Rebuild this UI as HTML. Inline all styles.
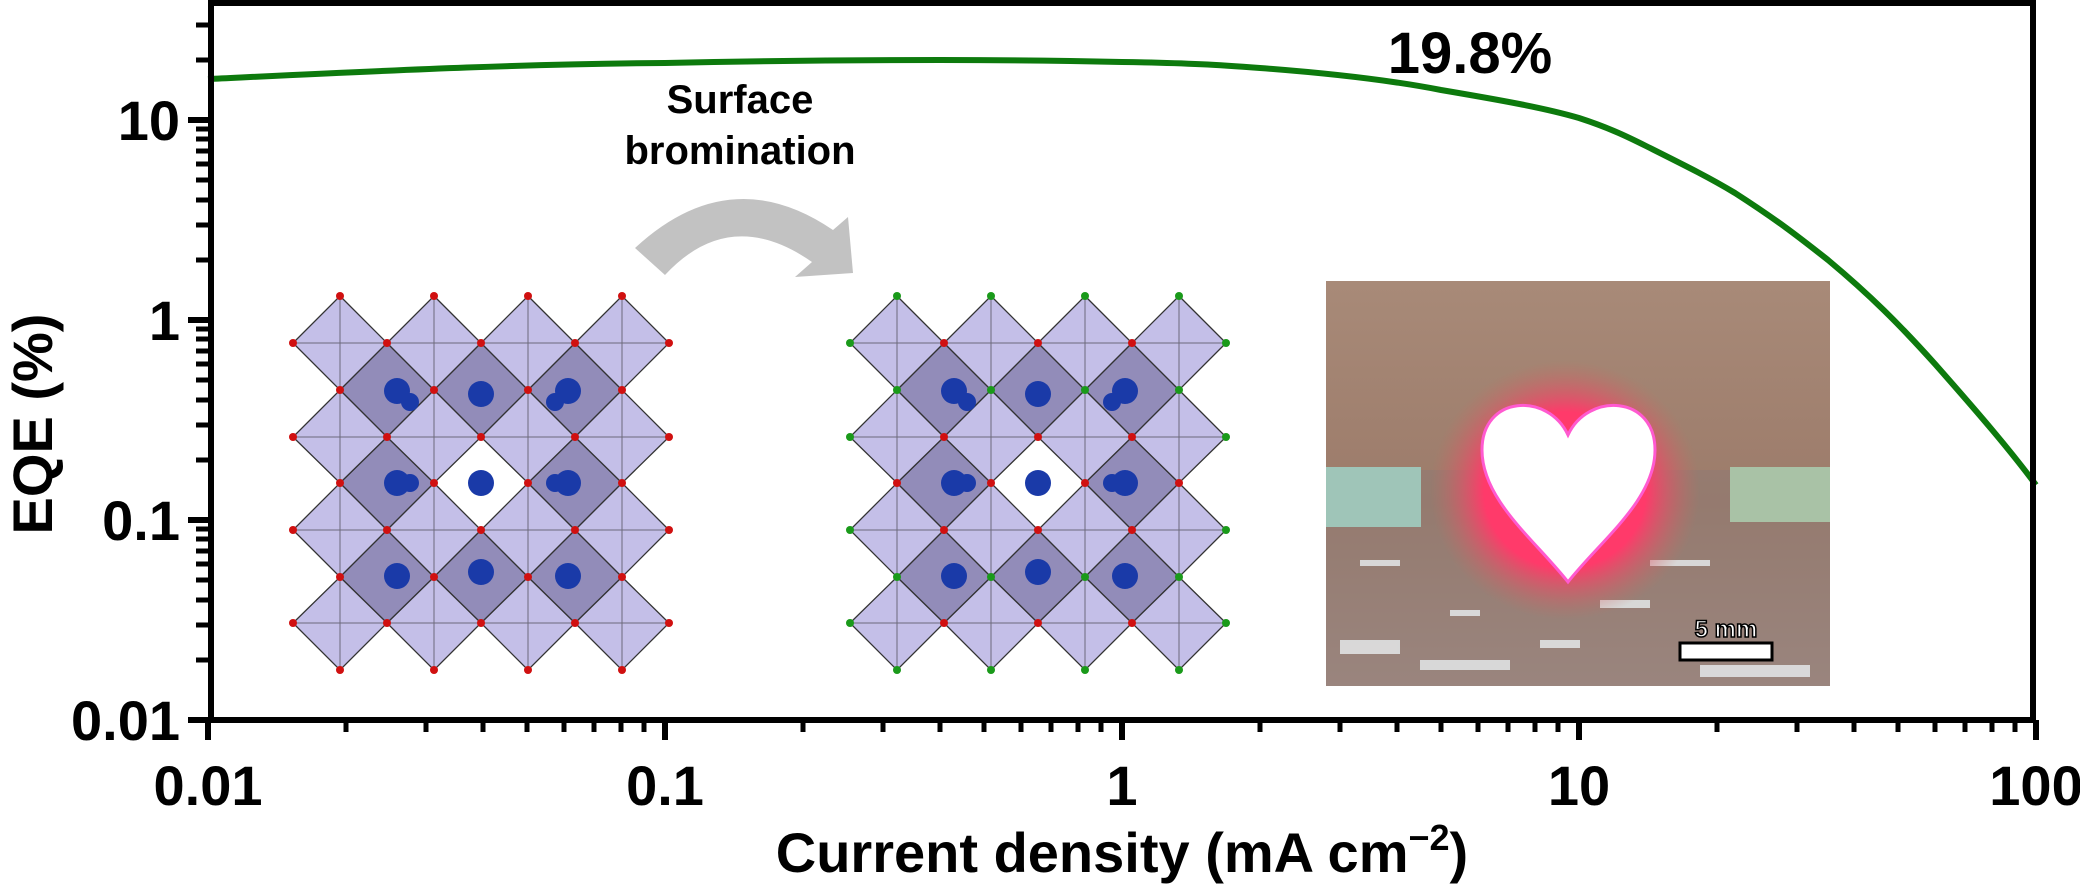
<!DOCTYPE html>
<html><head><meta charset="utf-8"><style>
html,body{margin:0;padding:0;background:#fff;}
svg{display:block;}
text{font-family:"Liberation Sans",Arial,sans-serif;font-weight:bold;fill:#000;}
</style></head><body>
<svg width="2080" height="886" viewBox="0 0 2080 886" xmlns="http://www.w3.org/2000/svg">
<defs>
<g id="crys">
  <g fill="#4a3f8a" fill-opacity="0.6" stroke="#222" stroke-width="1.2">
    <polygon points="387,343 434,390 387,437 340,390"/>
    <polygon points="481,343 528,390 481,437 434,390"/>
    <polygon points="575,343 622,390 575,437 528,390"/>
    <polygon points="387,437 434,483 387,530 340,483"/>
    <polygon points="575,437 622,483 575,530 528,483"/>
    <polygon points="387,530 434,577 387,623 340,577"/>
    <polygon points="481,530 528,577 481,623 434,577"/>
    <polygon points="575,530 622,577 575,623 528,577"/>
  </g>
  <polygon points="481,437 516,483 481,520 446,483" fill="#fff"/>
  <g fill="#9c94d8" fill-opacity="0.6" stroke="#333" stroke-width="1.3">
    <polygon points="340,296 387,343 340,390 293,343"/>
    <polygon points="434,296 481,343 434,390 387,343"/>
    <polygon points="528,296 575,343 528,390 481,343"/>
    <polygon points="622,296 669,343 622,390 575,343"/>
    <polygon points="340,390 387,437 340,483 293,437"/>
    <polygon points="434,390 481,437 434,483 387,437"/>
    <polygon points="528,390 575,437 528,483 481,437"/>
    <polygon points="622,390 669,437 622,483 575,437"/>
    <polygon points="340,483 387,530 340,577 293,530"/>
    <polygon points="434,483 481,530 434,577 387,530"/>
    <polygon points="528,483 575,530 528,577 481,530"/>
    <polygon points="622,483 669,530 622,577 575,530"/>
    <polygon points="340,577 387,623 340,670 293,623"/>
    <polygon points="434,577 481,623 434,670 387,623"/>
    <polygon points="528,577 575,623 528,670 481,623"/>
    <polygon points="622,577 669,623 622,670 575,623"/>
  </g>
  <g stroke="#333" stroke-width="1" opacity="0.6">
    <path d="M293,343L669,343M293,437L669,437M293,530L669,530M293,623L669,623M340,296L340,670M434,296L434,670M528,296L528,670M622,296L622,670"/>
  </g>
  <g fill="#1a3aa8">
    <circle cx="481" cy="483" r="13"/>
    <circle cx="397" cy="391" r="13"/><circle cx="481" cy="394" r="13"/><circle cx="568" cy="391" r="13"/>
    <circle cx="397" cy="483" r="13"/><circle cx="568" cy="483" r="13"/>
    <circle cx="397" cy="576" r="13"/><circle cx="481" cy="572" r="13"/><circle cx="568" cy="576" r="13"/>
    <circle cx="410" cy="402" r="9"/><circle cx="555" cy="402" r="9"/><circle cx="410" cy="483" r="9"/><circle cx="555" cy="483" r="9"/>
  </g>
</g>
</defs>

<g>
  <use href="#crys"/>
  <g fill="#d01010">
    <circle cx="340" cy="296" r="4"/><circle cx="434" cy="296" r="4"/><circle cx="528" cy="296" r="4"/><circle cx="622" cy="296" r="4"/>
    <circle cx="340" cy="670" r="4"/><circle cx="434" cy="670" r="4"/><circle cx="528" cy="670" r="4"/><circle cx="622" cy="670" r="4"/>
    <circle cx="293" cy="343" r="4"/><circle cx="293" cy="437" r="4"/><circle cx="293" cy="530" r="4"/><circle cx="293" cy="623" r="4"/>
    <circle cx="669" cy="343" r="4"/><circle cx="669" cy="437" r="4"/><circle cx="669" cy="530" r="4"/><circle cx="669" cy="623" r="4"/>
    <circle cx="387" cy="343" r="4"/><circle cx="481" cy="343" r="4"/><circle cx="575" cy="343" r="4"/>
    <circle cx="387" cy="437" r="4"/><circle cx="481" cy="437" r="4"/><circle cx="575" cy="437" r="4"/>
    <circle cx="387" cy="530" r="4"/><circle cx="481" cy="530" r="4"/><circle cx="575" cy="530" r="4"/>
    <circle cx="387" cy="623" r="4"/><circle cx="481" cy="623" r="4"/><circle cx="575" cy="623" r="4"/>
    <circle cx="340" cy="390" r="4"/><circle cx="434" cy="390" r="4"/><circle cx="528" cy="390" r="4"/><circle cx="622" cy="390" r="4"/>
    <circle cx="340" cy="483" r="4"/><circle cx="434" cy="483" r="4"/><circle cx="528" cy="483" r="4"/><circle cx="622" cy="483" r="4"/>
    <circle cx="340" cy="577" r="4"/><circle cx="434" cy="577" r="4"/><circle cx="528" cy="577" r="4"/><circle cx="622" cy="577" r="4"/>
  </g>
</g>
<g transform="translate(557,0)">
  <use href="#crys"/>
  <g fill="#1a9a1a">
    <circle cx="340" cy="296" r="4"/><circle cx="434" cy="296" r="4"/><circle cx="528" cy="296" r="4"/><circle cx="622" cy="296" r="4"/>
    <circle cx="340" cy="670" r="4"/><circle cx="434" cy="670" r="4"/><circle cx="528" cy="670" r="4"/><circle cx="622" cy="670" r="4"/>
    <circle cx="293" cy="343" r="4"/><circle cx="293" cy="437" r="4"/><circle cx="293" cy="530" r="4"/><circle cx="293" cy="623" r="4"/>
    <circle cx="669" cy="343" r="4"/><circle cx="669" cy="437" r="4"/><circle cx="669" cy="530" r="4"/><circle cx="669" cy="623" r="4"/>
    <circle cx="340" cy="390" r="4"/><circle cx="434" cy="390" r="4"/><circle cx="528" cy="390" r="4"/><circle cx="622" cy="390" r="4"/>
    <circle cx="340" cy="577" r="4"/><circle cx="434" cy="577" r="4"/><circle cx="528" cy="577" r="4"/><circle cx="622" cy="577" r="4"/>
  </g>
  <g fill="#d01010">
    <circle cx="387" cy="343" r="4"/><circle cx="481" cy="343" r="4"/><circle cx="575" cy="343" r="4"/>
    <circle cx="387" cy="437" r="4"/><circle cx="481" cy="437" r="4"/><circle cx="575" cy="437" r="4"/>
    <circle cx="387" cy="530" r="4"/><circle cx="481" cy="530" r="4"/><circle cx="575" cy="530" r="4"/>
    <circle cx="387" cy="623" r="4"/><circle cx="481" cy="623" r="4"/><circle cx="575" cy="623" r="4"/>
    <circle cx="340" cy="483" r="4"/><circle cx="434" cy="483" r="4"/><circle cx="528" cy="483" r="4"/><circle cx="622" cy="483" r="4"/>
  </g>
</g>

<path d="M635,248 Q730,160 833,230 L848,217 L853,273 L795,277 L812,262 Q730,205 665,275 Z" fill="#c2c2c2"/>
<text x="740" y="113" font-size="40" text-anchor="middle">Surface</text>
<text x="740" y="164" font-size="40" text-anchor="middle">bromination</text>

<defs>
  <radialGradient id="glow" cx="0.5" cy="0.5" r="0.5">
    <stop offset="0.6" stop-color="#ff3a6a" stop-opacity="1"/>
    <stop offset="1" stop-color="#c86a60" stop-opacity="0"/>
  </radialGradient>
  <linearGradient id="bg" x1="0" y1="0" x2="0" y2="1">
    <stop offset="0" stop-color="#a88a78"/>
    <stop offset="0.55" stop-color="#9c7b6a"/>
    <stop offset="1" stop-color="#a69088"/>
  </linearGradient>
</defs>
<rect x="1326" y="281" width="504" height="405" fill="url(#bg)"/>
<rect x="1326" y="470" width="504" height="216" fill="#8e7a74" opacity="0.5"/>
<g fill="#e8eef0" opacity="0.8">
  <rect x="1340" y="640" width="60" height="14"/><rect x="1420" y="660" width="90" height="10"/><rect x="1600" y="600" width="50" height="8"/>
  <rect x="1700" y="665" width="110" height="12"/><rect x="1540" y="640" width="40" height="8"/><rect x="1450" y="610" width="30" height="6"/>
  <rect x="1360" y="560" width="40" height="6"/><rect x="1650" y="560" width="60" height="6"/>
</g>
<rect x="1326" y="467" width="95" height="60" fill="#9fc5b8"/>
<rect x="1730" y="467" width="100" height="55" fill="#a9c2a6"/>
<ellipse cx="1565" cy="490" rx="135" ry="130" fill="url(#glow)"/>
<path d="M1568,435 C1548,392 1482,395 1482,450 C1482,500 1535,540 1568,582 C1601,540 1655,500 1655,450 C1655,395 1588,392 1568,435 Z" fill="#fff" stroke="#ff5ad0" stroke-width="3"/>
<rect x="1680" y="643" width="92" height="17" fill="#fff" stroke="#000" stroke-width="3"/>
<text x="1726" y="637" font-size="24" text-anchor="middle" stroke="#000" stroke-width="1.5" style="fill:#fff">5 mm</text>

<path d="M208,79 C400,70 520,64 665,63 C800,60 880,60 940,60 C1030,60 1080,61 1122,62 C1190,63 1220,65 1260,68 C1340,74 1400,82 1441,90 C1500,100 1545,108 1579,118 C1610,128 1630,138 1646,146 C1690,168 1710,178 1735,193 C1780,222 1800,238 1828,260 C1870,295 1900,325 1935,364 C1980,415 2010,450 2036,485" fill="none" stroke="#0d7a0d" stroke-width="6"/>
<text x="1470" y="73" font-size="58" text-anchor="middle">19.8%</text>

<g stroke="#000" fill="none">
  <rect x="211" y="3" width="1822" height="717" stroke-width="6"/>
  <g stroke-width="6">
    <line x1="208" y1="720" x2="208" y2="740"/><line x1="665" y1="720" x2="665" y2="740"/>
    <line x1="1122" y1="720" x2="1122" y2="740"/><line x1="1579" y1="720" x2="1579" y2="740"/>
    <line x1="2036" y1="720" x2="2036" y2="740"/>
    <line x1="188" y1="720" x2="211" y2="720"/><line x1="188" y1="520" x2="211" y2="520"/>
    <line x1="188" y1="320" x2="211" y2="320"/><line x1="188" y1="120" x2="211" y2="120"/>
  </g>
  <g stroke-width="5">
    <path d="M346,720v12M426,720v12M483,720v12M527,720v12M564,720v12M594,720v12M621,720v12M644,720v12
    M803,720v12M883,720v12M940,720v12M984,720v12M1021,720v12M1051,720v12M1078,720v12M1101,720v12
    M1260,720v12M1340,720v12M1397,720v12M1441,720v12M1478,720v12M1508,720v12M1535,720v12M1558,720v12
    M1717,720v12M1797,720v12M1854,720v12M1898,720v12M1935,720v12M1965,720v12M1992,720v12M2015,720v12"/>
    <path d="M196,660h15M196,625h15M196,600h15M196,580h15M196,564h15M196,551h15M196,539h15M196,529h15
    M196,460h15M196,425h15M196,400h15M196,380h15M196,364h15M196,351h15M196,339h15M196,329h15
    M196,260h15M196,225h15M196,200h15M196,180h15M196,164h15M196,151h15M196,139h15M196,129h15
    M196,60h15M196,25h15"/>
  </g>
</g>
<g font-size="56">
  <text x="180" y="740" text-anchor="end">0.01</text>
  <text x="180" y="540" text-anchor="end">0.1</text>
  <text x="180" y="340" text-anchor="end">1</text>
  <text x="180" y="140" text-anchor="end">10</text>
  <text x="208" y="805" text-anchor="middle">0.01</text>
  <text x="665" y="805" text-anchor="middle">0.1</text>
  <text x="1122" y="805" text-anchor="middle">1</text>
  <text x="1579" y="805" text-anchor="middle">10</text>
  <text x="2036" y="805" text-anchor="middle">100</text>
  <text x="1122" y="872" text-anchor="middle">Current density (mA cm<tspan font-size="36" dy="-22">−2</tspan><tspan dy="22">)</tspan></text>
  <text transform="translate(52,424) rotate(-90)" text-anchor="middle">EQE (%)</text>
</g>
</svg>
</body></html>
